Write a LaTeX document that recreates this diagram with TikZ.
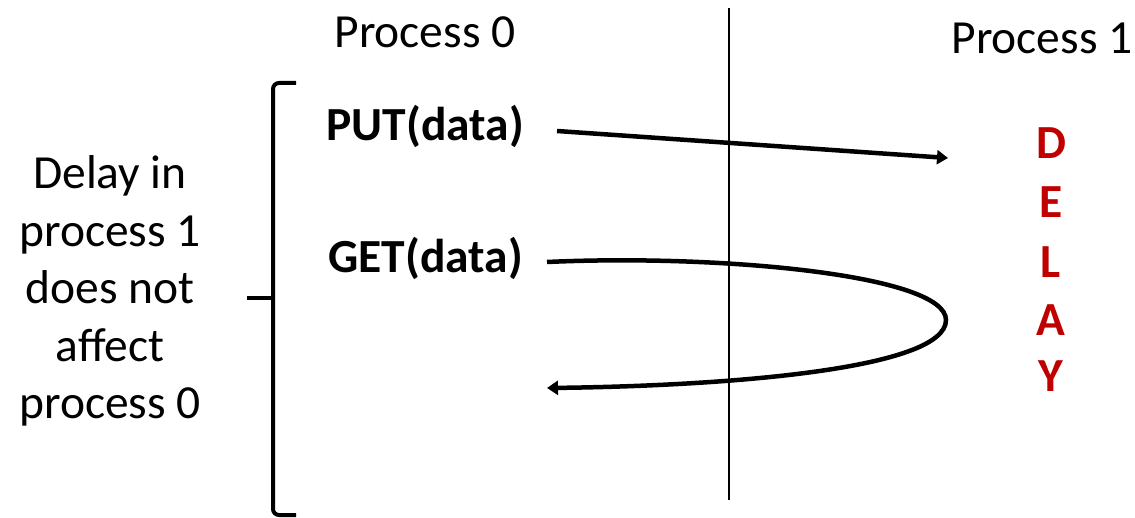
\documentclass[tikz,border=0pt]{standalone}
\usepackage{fontspec}
\setmainfont{Carlito}
\usetikzlibrary{arrows.meta}
\definecolor{delayred}{HTML}{C00000}
\begin{document}
\begin{tikzpicture}[x=1pt,y=-1pt,
  lbl/.style={font=\fontsize{47.5}{47.5}\selectfont, inner sep=0pt},
  call/.style={font=\fontsize{47.5}{47.5}\selectfont\bfseries, inner sep=0pt},
  delayletter/.style={font=\fontsize{47.5}{47.5}\selectfont\bfseries, text=delayred, inner sep=0pt},
  msg/.style={line width=4.5pt, -{Triangle[length=11pt,width=14pt]}},
  brace/.style={line width=4pt, rounded corners=6pt}]
\useasboundingbox (0,0) rectangle (1135,518);

% process labels and divider
\node[lbl] (p0) at (425,32) {Process 0};
\node[lbl] (p1) at (1042,38) {Process 1};
\coordinate (divtop) at (729,8);
\coordinate (divbot) at (729,500);
\draw[line width=2pt] (divtop) -- (divbot);

% operations issued by process 0
\node[call, anchor=east] (put) at (524,126) {PUT(data)};
\node[call, anchor=east] (get) at (523,258) {GET(data)};

% delay in process 1
\node[delayletter] (d1) at (1051,143) {D};
\node[delayletter] (d2) at (1051,202) {E};
\node[delayletter] (d3) at (1051,262) {L};
\node[delayletter] (d4) at (1051,320) {A};
\node[delayletter] (d5) at (1051,376) {Y};

% messages
\coordinate (putend) at (948,158);
\draw[msg] ([xshift=33pt,yshift=-5pt]put.east) -- (putend);
\coordinate (getturn) at (946,320);
\coordinate (getend) at (547,388);
\draw[msg] ([xshift=24pt,yshift=-4pt]get.east)
  .. controls (720,254) and (946,275) .. (getturn)
  .. controls (946,370) and (720,386) .. (getend);

% bracket with explanation
\coordinate (btop) at (296,83);
\coordinate (bbot) at (296,515);
\coordinate (bmid) at (273,298);
\coordinate (btick) at (247,298);
\draw[brace] (btop) -- (273,83) -- (273,515) -- (bbot);
\draw[line width=4pt] (btick) -- (bmid);
\node[lbl, align=center, font=\fontsize{47.5}{57.5}\selectfont] (note) at (110,291)
  {Delay in\\process 1\\does not\\affect\\process 0};
\end{tikzpicture}
\end{document}
